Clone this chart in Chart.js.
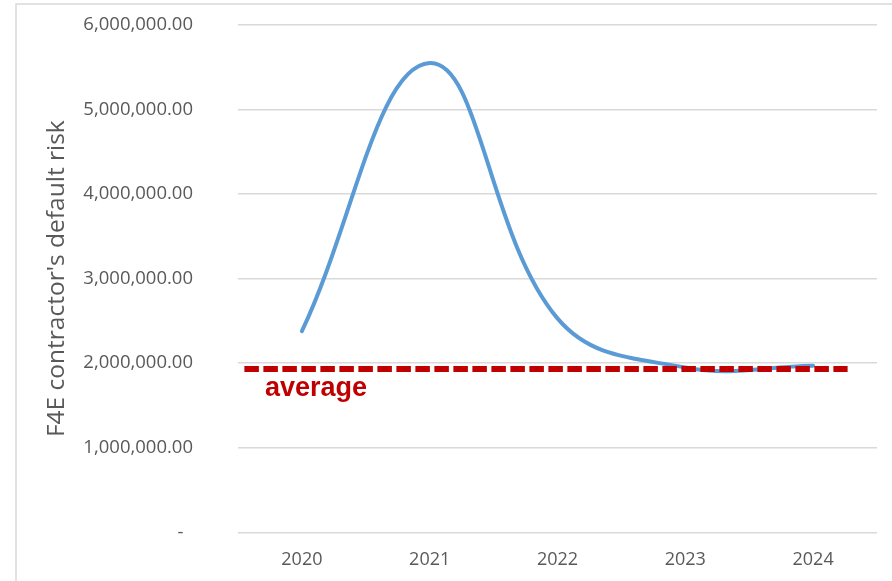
<!DOCTYPE html>
<html>
<head>
<meta charset="utf-8">
<title>F4E contractor's default risk</title>
<script src="https://cdn.jsdelivr.net/npm/chart.js@4/dist/chart.umd.min.js"></script>
<style>
  html, body { margin: 0; padding: 0; background: #ffffff; }
  canvas { display: block; }
</style>
</head>
<body>
<canvas id="risk" width="892" height="581"></canvas>
<script>
// Yearly default risk of the F4E contractor
const years = ['2020', '2021', '2022', '2023', '2024'];
const defaultRisk = [2380000, 5550000, 2530000, 1950000, 1970000];

// Reference average drawn as a dashed line, in category units along the x axis
const averageValue = 1930000;
const averageFrom = -0.45;
const averageTo = 4.27;
const averageLabel = 'average';

// Y axis ticks
const yTickValues = [0, 1000000, 2000000, 3000000, 4000000, 5000000, 6000000];
const yAxisTitle = "F4E contractor's default risk";

const GREY_TEXT = '#595959';
const GRID = '#D9D9D9';
const RED = '#C00000';
const BLUE = '#5B9BD5';

function formatAccounting(v) {
  if (v === 0) return '-  ';
  return v.toLocaleString('en-US', { minimumFractionDigits: 2, maximumFractionDigits: 2 });
}

// Light frame around the chart and the "average" caption
const decorations = {
  id: 'decorations',
  beforeDraw(chart) {
    const ctx = chart.ctx;
    ctx.save();
    ctx.strokeStyle = GRID;
    ctx.lineWidth = 1.5;
    ctx.strokeRect(16, 4, 2000, 2000);
    ctx.restore();
  },
  afterDatasetsDraw(chart) {
    const ctx = chart.ctx;
    const xs = chart.scales.xAvg;
    const ys = chart.scales.y;
    ctx.save();
    ctx.fillStyle = RED;
    ctx.font = 'bold 27px "Liberation Sans", Arial, sans-serif';
    ctx.textAlign = 'left';
    ctx.textBaseline = 'alphabetic';
    ctx.fillText(averageLabel, xs.getPixelForValue(-0.5) + 27, ys.getPixelForValue(averageValue) + 27);
    ctx.restore();
  }
};

new Chart(document.getElementById('risk'), {
  type: 'line',
  data: {
    labels: years,
    datasets: [
      {
        label: 'Default risk',
        data: defaultRisk,
        borderColor: BLUE,
        borderWidth: 4,
        pointRadius: 0,
        pointHoverRadius: 0,
        tension: 0.4,
        fill: false,
        borderCapStyle: 'round',
        xAxisID: 'x',
        order: 2
      },
      {
        label: 'Average',
        data: [{ x: averageFrom, y: averageValue }, { x: averageTo, y: averageValue }],
        borderColor: RED,
        borderWidth: 6,
        borderDash: [14.5, 4.5],
        pointRadius: 0,
        pointHoverRadius: 0,
        tension: 0,
        fill: false,
        xAxisID: 'xAvg',
        order: 1
      }
    ]
  },
  options: {
    responsive: false,
    animation: false,
    devicePixelRatio: 1,
    layout: { padding: { left: 16, right: 15, top: 25, bottom: 0 } },
    plugins: {
      legend: { display: false },
      tooltip: { enabled: false }
    },
    scales: {
      x: {
        type: 'category',
        offset: true,
        grid: { display: false, drawTicks: false },
        border: { display: false },
        ticks: {
          color: GREY_TEXT,
          font: { family: '"Open Sans", sans-serif', size: 18 },
          padding: 17,
          maxRotation: 0
        },
        afterFit(scale) { scale.height = 48.7; }
      },
      xAvg: {
        type: 'linear',
        display: false,
        min: -0.5,
        max: 4.5
      },
      y: {
        type: 'linear',
        min: 0,
        max: 6000000,
        afterBuildTicks(scale) {
          scale.ticks = yTickValues.map(v => ({ value: v }));
        },
        grid: { color: GRID, lineWidth: 1.5, drawTicks: false },
        border: { display: false },
        ticks: {
          color: GREY_TEXT,
          font: { family: '"Open Sans", sans-serif', size: 18.5 },
          padding: 45,
          callback: v => formatAccounting(v)
        },
        title: {
          display: true,
          text: yAxisTitle,
          color: GREY_TEXT,
          font: { family: '"Open Sans", sans-serif', size: 24.5, weight: 'normal' },
          padding: { top: 26, bottom: 0 }
        },
        afterFit(scale) {
          scale.width = 222;
          scale.paddingTop = 0;
          scale.paddingBottom = 0;
        }
      }
    }
  },
  plugins: [decorations]
});
</script>
</body>
</html>
